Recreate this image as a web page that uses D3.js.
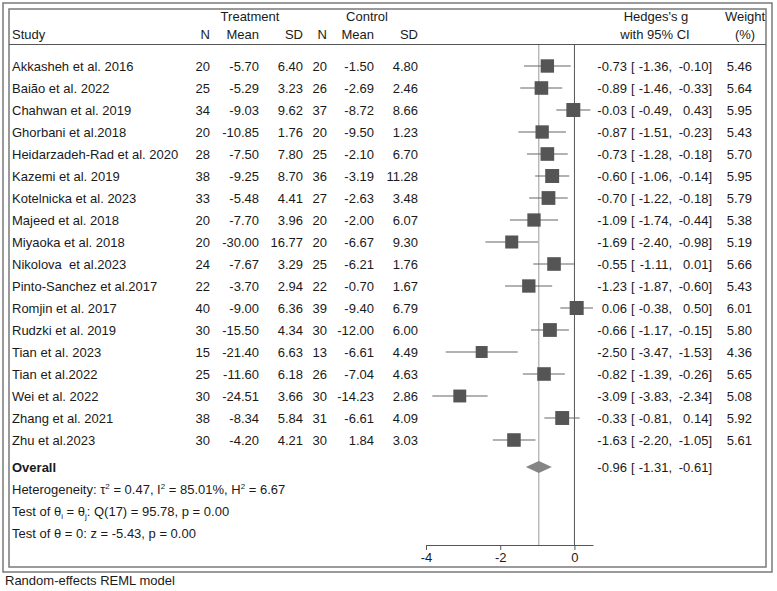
<!DOCTYPE html>
<html>
<head>
<meta charset="utf-8">
<script src="https://cdn.jsdelivr.net/npm/d3@7"></script>
<style>
  body { margin: 0; background: #fff; }
  svg text { font-family: "Liberation Sans", Arial, sans-serif; font-size: 13px; fill: #1a1a1a; white-space: pre; }
</style>
</head>
<body>
<div id="chart"></div>
<script>
// study rows
var studies = ["Akkasheh et al. 2016", "Baião et al. 2022", "Chahwan et al. 2019", "Ghorbani et al.2018",
  "Heidarzadeh-Rad et al. 2020", "Kazemi et al. 2019", "Kotelnicka et al. 2023", "Majeed et al. 2018",
  "Miyaoka et al. 2018", "Nikolova  et al.2023", "Pinto-Sanchez et al.2017", "Romjin et al. 2017",
  "Rudzki et al. 2019", "Tian et al. 2023", "Tian et al.2022", "Wei et al. 2022", "Zhang et al. 2021",
  "Zhu et al.2023"];
var nT    = [20, 25, 34, 20, 28, 38, 33, 20, 20, 24, 22, 40, 30, 15, 25, 30, 38, 30];
var meanT = ["-5.70", "-5.29", "-9.03", "-10.85", "-7.50", "-9.25", "-5.48", "-7.70", "-30.00", "-7.67", "-3.70", "-9.00", "-15.50", "-21.40", "-11.60", "-24.51", "-8.34", "-4.20"];
var sdT   = ["6.40", "3.23", "9.62", "1.76", "7.80", "8.70", "4.41", "3.96", "16.77", "3.29", "2.94", "6.36", "4.34", "6.63", "6.18", "3.66", "5.84", "4.21"];
var nC    = [20, 26, 37, 20, 25, 36, 27, 20, 20, 25, 22, 39, 30, 13, 26, 30, 31, 30];
var meanC = ["-1.50", "-2.69", "-8.72", "-9.50", "-2.10", "-3.19", "-2.63", "-2.00", "-6.67", "-6.21", "-0.70", "-9.40", "-12.00", "-6.61", "-7.04", "-14.23", "-6.61", "1.84"];
var sdC   = ["4.80", "2.46", "8.66", "1.23", "6.70", "11.28", "3.48", "6.07", "9.30", "1.76", "1.67", "6.79", "6.00", "4.49", "4.63", "2.86", "4.09", "3.03"];
var g     = [-0.73, -0.89, -0.03, -0.87, -0.73, -0.60, -0.70, -1.09, -1.69, -0.55, -1.23, 0.06, -0.66, -2.50, -0.82, -3.09, -0.33, -1.63];
var ciLo  = [-1.36, -1.46, -0.49, -1.51, -1.28, -1.06, -1.22, -1.74, -2.40, -1.11, -1.87, -0.38, -1.17, -3.47, -1.39, -3.83, -0.81, -2.20];
var ciHi  = [-0.10, -0.33, 0.43, -0.23, -0.18, -0.14, -0.18, -0.44, -0.98, 0.01, -0.60, 0.50, -0.15, -1.53, -0.26, -2.34, 0.14, -1.05];
var weight = [5.46, 5.64, 5.95, 5.43, 5.70, 5.95, 5.79, 5.38, 5.19, 5.66, 5.43, 6.01, 5.80, 4.36, 5.65, 5.08, 5.92, 5.61];
var overall = {g: -0.96, lo: -1.31, hi: -0.61};
var xTicks = [-4, -2, 0];

var width = 777, height = 591;
var svg = d3.select("#chart").append("svg")
    .attr("width", width)
    .attr("height", height);

// double frame
svg.append("rect").attr("x", 3).attr("y", 3).attr("width", 769).attr("height", 569)
    .style("fill", "none").style("stroke", "#7a7a7a").style("stroke-width", 1.5);
svg.append("rect").attr("x", 9).attr("y", 9).attr("width", 757).attr("height", 558)
    .style("fill", "none").style("stroke", "#7a7a7a").style("stroke-width", 1.5);

var x = d3.scaleLinear().domain([-4, 0.5]).range([426, 593]),
    y = d3.scaleLinear().domain([0, studies.length - 1]).range([66, 440]),
    yOverall = 467,
    axisY = 545;

// plain hyphen minus, like the original
function fmt(v) { return v.toFixed(2); }

// header
var head = svg.append("g");
function htext(t, xx, yy, anchor) {
    head.append("text").attr("x", xx).attr("y", yy).attr("dy", "0.35em")
        .attr("text-anchor", anchor || "middle").text(t);
}
htext("Treatment", 250, 16);
htext("Control", 367, 16);
htext("Hedges's g", 656, 16);
htext("Weight", 745, 16);
htext("Study", 12, 34, "start");
htext("N", 210, 34, "end");
htext("Mean", 259, 34, "end");
htext("SD", 303, 34, "end");
htext("N", 327, 34, "end");
htext("Mean", 374, 34, "end");
htext("SD", 418, 34, "end");
htext("with 95% CI", 655, 34);
htext("(%)", 745, 34);
svg.append("line").attr("x1", 9).attr("x2", 766).attr("y1", 44.5).attr("y2", 44.5)
    .style("stroke", "#555").style("stroke-width", 1);

// reference lines
svg.append("line").attr("x1", x(overall.g)).attr("x2", x(overall.g)).attr("y1", 45).attr("y2", axisY)
    .style("stroke", "#9a9a9a").style("stroke-width", 1);
svg.append("line").attr("x1", x(0)).attr("x2", x(0)).attr("y1", 45).attr("y2", axisY)
    .style("stroke", "#555").style("stroke-width", 1);

// table columns
var cols = [
  {vals: studies, x: 12, anchor: "start"},
  {vals: nT, x: 210, anchor: "end"},
  {vals: meanT, x: 259, anchor: "end"},
  {vals: sdT, x: 303, anchor: "end"},
  {vals: nC, x: 327, anchor: "end"},
  {vals: meanC, x: 374, anchor: "end"},
  {vals: sdC, x: 418, anchor: "end"},
  {vals: g.map(fmt), x: 627, anchor: "end"},
  {vals: studies.map(function(){ return "["; }), x: 631, anchor: "start"},
  {vals: ciLo.map(function(v){ return fmt(v) + ","; }), x: 672, anchor: "end"},
  {vals: ciHi.map(function(v){ return fmt(v) + "]"; }), x: 712, anchor: "end"},
  {vals: weight.map(fmt), x: 752, anchor: "end"}
];
cols.forEach(function(c) {
    svg.append("g").selectAll("text")
        .data(c.vals)
      .enter().append("text")
        .attr("x", c.x)
        .attr("y", function(d, i) { return y(i); })
        .attr("dy", "0.35em")
        .attr("text-anchor", c.anchor)
        .text(function(d) { return d; });
});

// CIs and squares
var rows = svg.append("g").selectAll("g")
    .data(g)
  .enter().append("g");
rows.append("line")
    .attr("x1", function(d, i) { return x(ciLo[i]); })
    .attr("x2", function(d, i) { return x(ciHi[i]); })
    .attr("y1", function(d, i) { return y(i); })
    .attr("y2", function(d, i) { return y(i); })
    .style("stroke", "#666").style("stroke-width", 1.2);
rows.append("rect")
    .attr("x", function(d, i) { return x(d) - 2.86 * Math.sqrt(weight[i]); })
    .attr("y", function(d, i) { return y(i) - 2.86 * Math.sqrt(weight[i]); })
    .attr("width", function(d, i) { return 5.72 * Math.sqrt(weight[i]); })
    .attr("height", function(d, i) { return 5.72 * Math.sqrt(weight[i]); })
    .style("fill", "#555");

// overall
svg.append("path")
    .attr("d", "M" + x(overall.lo) + "," + yOverall + "L" + x(overall.g) + "," + (yOverall - 6) +
               "L" + x(overall.hi) + "," + yOverall + "L" + x(overall.g) + "," + (yOverall + 6) + "Z")
    .style("fill", "#858585");
svg.append("text").attr("x", 12).attr("y", yOverall).attr("dy", "0.35em")
    .style("font-weight", "bold").text("Overall");
svg.append("text").attr("x", 627).attr("y", yOverall).attr("dy", "0.35em").attr("text-anchor", "end").text(fmt(overall.g));
svg.append("text").attr("x", 631).attr("y", yOverall).attr("dy", "0.35em").text("[");
svg.append("text").attr("x", 672).attr("y", yOverall).attr("dy", "0.35em").attr("text-anchor", "end").text(fmt(overall.lo) + ",");
svg.append("text").attr("x", 712).attr("y", yOverall).attr("dy", "0.35em").attr("text-anchor", "end").text(fmt(overall.hi) + "]");

// stats lines
var t1 = svg.append("text").attr("x", 12).attr("y", 489).attr("dy", "0.35em");
t1.append("tspan").text("Heterogeneity: τ");
t1.append("tspan").attr("dy", "-5").style("font-size", "8px").text("2");
t1.append("tspan").attr("dy", "5").text(" = 0.47, I");
t1.append("tspan").attr("dy", "-5").style("font-size", "8px").text("2");
t1.append("tspan").attr("dy", "5").text(" = 85.01%, H");
t1.append("tspan").attr("dy", "-5").style("font-size", "8px").text("2");
t1.append("tspan").attr("dy", "5").text(" = 6.67");

var t2 = svg.append("text").attr("x", 12).attr("y", 511).attr("dy", "0.35em");
t2.append("tspan").text("Test of θ");
t2.append("tspan").attr("dy", "3").style("font-size", "8px").text("i");
t2.append("tspan").attr("dy", "-3").text(" = θ");
t2.append("tspan").attr("dy", "3").style("font-size", "8px").text("j");
t2.append("tspan").attr("dy", "-3").text(": Q(17) = 95.78, p = 0.00");

svg.append("text").attr("x", 12).attr("y", 533).attr("dy", "0.35em").text("Test of θ = 0: z = -5.43, p = 0.00");

// axis
var xAxis = d3.axisBottom(x).tickValues(xTicks).tickSize(5).tickSizeOuter(0)
    .tickFormat(function(d) { return String(d); });
var ax = svg.append("g")
    .attr("transform", "translate(0," + axisY + ")")
    .call(xAxis);
ax.select(".domain").style("stroke", "#555");
ax.selectAll(".tick line").style("stroke", "#555");
ax.selectAll(".tick text").style("font-size", "13px").style("fill", "#1a1a1a")
    .style("font-family", "'Liberation Sans', Arial, sans-serif");

svg.append("text").attr("x", 5).attr("y", 580).attr("dy", "0.35em").text("Random-effects REML model");
</script>
</body>
</html>
